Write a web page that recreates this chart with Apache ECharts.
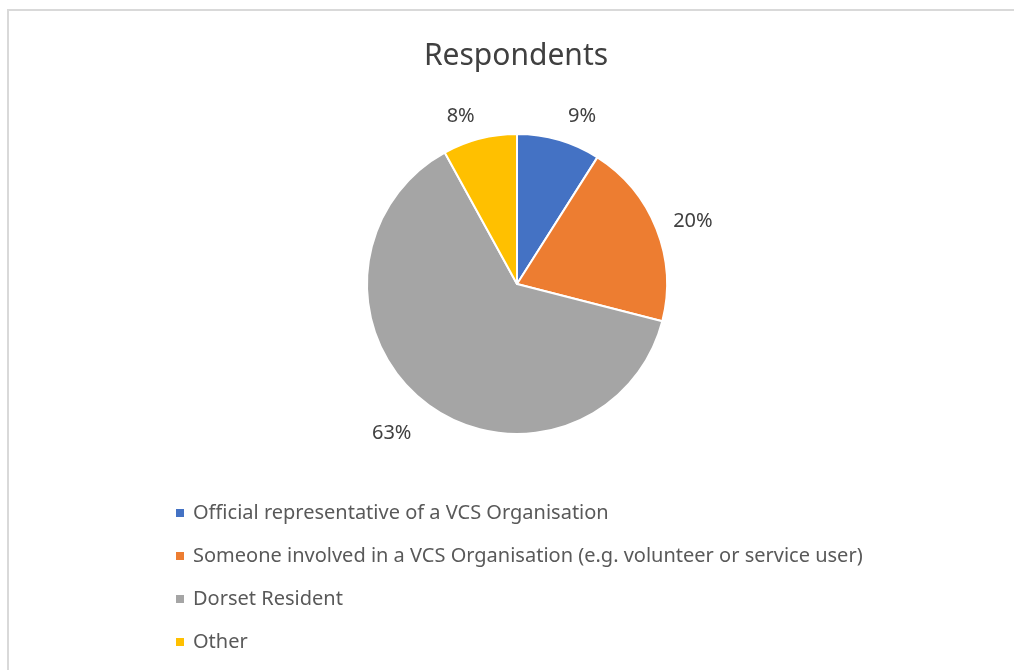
<!DOCTYPE html>
<html>
<head>
<meta charset="utf-8">
<script src="https://cdn.jsdelivr.net/npm/echarts@6/dist/echarts.min.js"></script>
<style>
  html, body { margin: 0; padding: 0; background: #fff; }
  #chart { width: 1014px; height: 670px; }
</style>
</head>
<body>
<div id="chart"></div>
<script>
// respondent groups and their shares (%)
var categories = [
  'Official representative of a VCS Organisation',
  'Someone involved in a VCS Organisation (e.g. volunteer or service user)',
  'Dorset Resident',
  'Other'
];
var shares = [9, 20, 63, 8];
var colors = ['#4472C4', '#ED7D31', '#A5A5A5', '#FFC000'];
// how far each % label sits outside the pie edge, plus small nudges
var labelGaps = [26, 19, 32, 24];
var labelNudge = [[-3, 1], [-6, 0], [11, 5], [6, 1]];

var chart = echarts.init(document.getElementById('chart'));
var fontName = 'Noto Sans';

var option = {
  backgroundColor: '#ffffff',
  animation: false,
  color: colors,
  title: {
    text: 'Respondents',
    left: 511,
    textAlign: 'center',
    top: 36,
    textStyle: { fontFamily: fontName, fontSize: 30, fontWeight: 'normal', color: '#404040' }
  },
  legend: {
    orient: 'vertical',
    left: 169,
    top: 497,
    itemWidth: 10,
    itemHeight: 10,
    itemGap: 21,
    icon: 'rect',
    textStyle: { fontFamily: fontName, fontSize: 20, color: '#595959', lineHeight: 22, padding: [0, 0, 0, 3] },
    data: categories
  },
  // outer frame of the chart area
  graphic: [{
    type: 'rect',
    shape: { x: 8, y: 10, width: 1020, height: 700 },
    style: { fill: 'none', stroke: '#d9d9d9', lineWidth: 2 },
    silent: true
  }],
  series: [{
    type: 'pie',
    center: [517, 284],
    radius: 150,
    startAngle: 90,
    clockwise: true,
    itemStyle: { borderColor: '#ffffff', borderWidth: 2 },
    label: {
      show: true,
      position: 'outside',
      formatter: '{c}%',
      fontFamily: fontName,
      fontSize: 20,
      color: '#404040'
    },
    labelLine: { show: false, length: 20, length2: 0 },
    labelLayout: function (p) {
      return { dx: labelNudge[p.dataIndex][0], dy: labelNudge[p.dataIndex][1] };
    },
    emphasis: { disabled: true },
    data: categories.map(function (name, i) {
      return { name: name, value: shares[i], labelLine: { length: labelGaps[i] } };
    })
  }]
};
chart.setOption(option);
</script>
</body>
</html>
